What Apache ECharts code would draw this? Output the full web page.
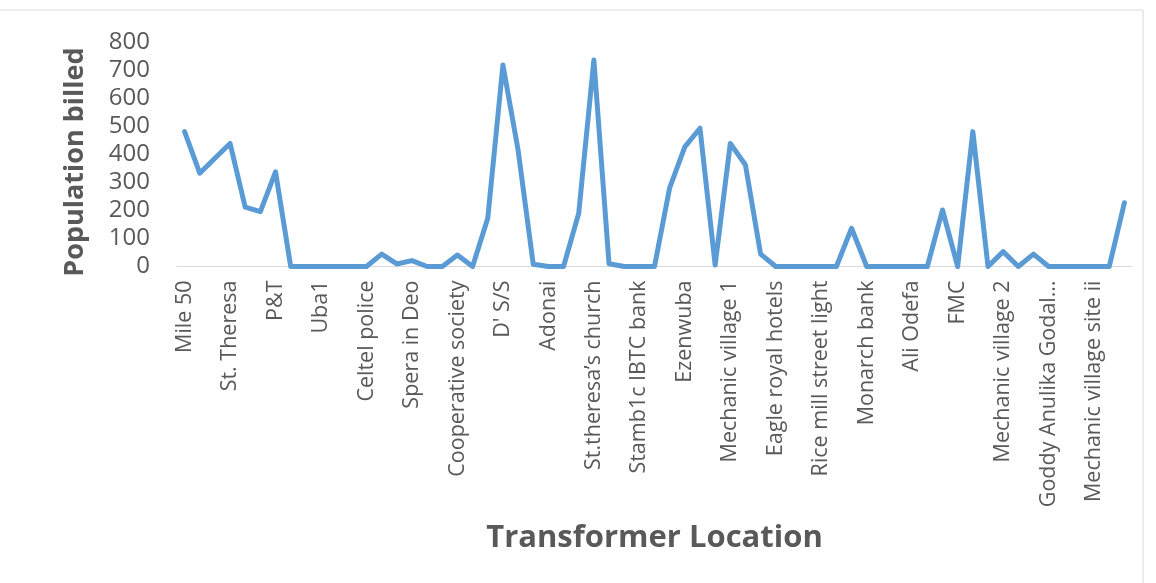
<!DOCTYPE html>
<html>
<head>
<meta charset="utf-8">
<script src="https://cdn.jsdelivr.net/npm/echarts@6/dist/echarts.min.js"></script>
<style>
  html, body { margin: 0; padding: 0; background: #fff; }
  #chart { width: 1156px; height: 583px; }
</style>
</head>
<body>
<div id="chart"></div>
<script>
// only every third location is named on the axis, the rest stay blank
var locations = [
  'Mile 50', '', '', 'St. Theresa', '', '', 'P&T', '', '', 'Uba1', '', '',
  'Celtel police', '', '', 'Spera in Deo', '', '', 'Cooperative society', '', '',
  "D' S/S", '', '', 'Adonai', '', '', 'St.theresa\u2019s church', '', '',
  'Stamb1c IBTC bank', '', '', 'Ezenwuba', '', '', 'Mechanic village 1', '', '',
  'Eagle royal hotels', '', '', 'Rice mill street light', '', '', 'Monarch bank', '', '',
  'Ali Odefa', '', '', 'FMC', '', '', 'Mechanic village 2', '', '',
  'Goddy Anulika Godal\u2026', '', '', 'Mechanic village site ii', '', ''
];
var billed = [
  480, 332, 385, 438, 211, 195, 337, 0, 0, 0, 0, 0,
  0, 44, 9, 21, 0, 0, 41, 0, 172, 717, 415, 8,
  0, 0, 189, 735, 10, 0, 0, 0, 280, 426, 492, 5,
  438, 361, 44, 0, 0, 0, 0, 0, 136, 0, 0, 0,
  0, 0, 201, 0, 480, 0, 53, 0, 44, 0, 0, 0,
  0, 0, 227
];
var yTicks = [0, 100, 200, 300, 400, 500, 600, 700, 800];

var chart = echarts.init(document.getElementById('chart'));
var option = {
  animation: false,
  backgroundColor: '#fff',
  graphic: [{
    type: 'rect',
    shape: { x: -2, y: 10, width: 1145, height: 580 },
    style: { fill: 'none', stroke: '#d9d9d9', lineWidth: 1 }
  }],
  grid: {
    left: 177,
    right: 24,
    top: 41.7,
    bottom: 316.5
  },
  xAxis: {
    type: 'category',
    data: locations,
    boundaryGap: true,
    name: 'Transformer Location',
    nameLocation: 'middle',
    nameGap: 256,
    nameTextStyle: {
      fontFamily: 'Open Sans',
      fontWeight: 'bold',
      fontSize: 31,
      color: '#595959'
    },
    axisLine: { lineStyle: { color: '#d9d9d9', width: 1 } },
    axisTick: { show: false },
    axisLabel: {
      interval: 2,
      rotate: 90,
      margin: 14,
      fontFamily: 'Open Sans',
      fontSize: 21.5,
      color: '#595959'
    }
  },
  yAxis: {
    type: 'value',
    min: yTicks[0],
    max: yTicks[yTicks.length - 1],
    interval: 100,
    name: 'Population billed',
    nameLocation: 'middle',
    nameGap: 88,
    nameTextStyle: {
      fontFamily: 'Open Sans',
      fontWeight: 'bold',
      fontSize: 27,
      color: '#595959',
      padding: [0, 16, 0, 0]
    },
    axisLine: { show: false },
    axisTick: { show: false },
    splitLine: { show: false },
    axisLabel: {
      margin: 27,
      fontFamily: 'Open Sans',
      fontSize: 24,
      color: '#595959'
    }
  },
  series: [{
    type: 'line',
    data: billed,
    showSymbol: false,
    symbol: 'none',
    lineStyle: {
      color: '#5b9bd5',
      width: 5,
      join: 'round',
      cap: 'round'
    }
  }]
};
chart.setOption(option);
</script>
</body>
</html>
